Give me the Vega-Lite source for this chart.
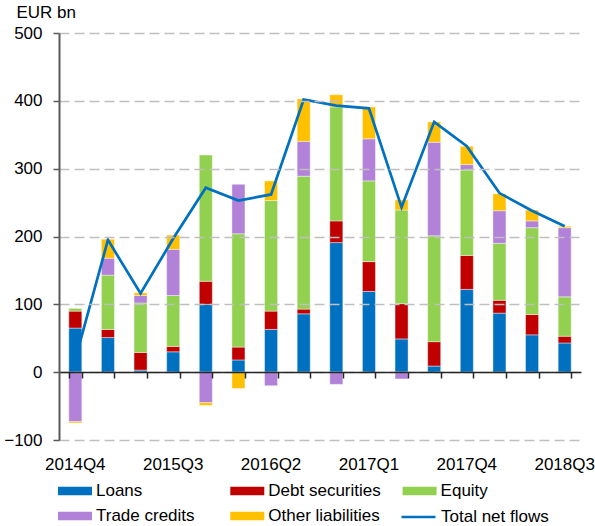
{
  "$schema": "https://vega.github.io/schema/vega-lite/v6.json",
  "autosize": {"type": "none"},
  "width": 522,
  "height": 407,
  "padding": {"left": 59, "top": 33, "right": 14, "bottom": 86},
  "background": "white",
  "config": {
    "view": {"stroke": null},
    "font": "Liberation Sans",
    "axis": {"labelFont": "Liberation Sans", "labelFontSize": 17, "labelColor": "#000000"}
  },
  "datasets": {
    "bars": [
      {"q": "2014Q4", "s": "Loans", "v": 65}, {"q": "2014Q4", "s": "Debt securities", "v": 25}, {"q": "2014Q4", "s": "Equity", "v": 4}, {"q": "2014Q4", "s": "Trade credits", "v": -73}, {"q": "2014Q4", "s": "Other liabilities", "v": -2},
      {"q": "2015Q1", "s": "Loans", "v": 51}, {"q": "2015Q1", "s": "Debt securities", "v": 12}, {"q": "2015Q1", "s": "Equity", "v": 80}, {"q": "2015Q1", "s": "Trade credits", "v": 25}, {"q": "2015Q1", "s": "Other liabilities", "v": 28},
      {"q": "2015Q2", "s": "Loans", "v": 3}, {"q": "2015Q2", "s": "Debt securities", "v": 26}, {"q": "2015Q2", "s": "Equity", "v": 73}, {"q": "2015Q2", "s": "Trade credits", "v": 11}, {"q": "2015Q2", "s": "Other liabilities", "v": 4},
      {"q": "2015Q3", "s": "Loans", "v": 30}, {"q": "2015Q3", "s": "Debt securities", "v": 8}, {"q": "2015Q3", "s": "Equity", "v": 75}, {"q": "2015Q3", "s": "Trade credits", "v": 68}, {"q": "2015Q3", "s": "Other liabilities", "v": 21},
      {"q": "2015Q4", "s": "Loans", "v": 100}, {"q": "2015Q4", "s": "Debt securities", "v": 34}, {"q": "2015Q4", "s": "Equity", "v": 186}, {"q": "2015Q4", "s": "Trade credits", "v": -45}, {"q": "2015Q4", "s": "Other liabilities", "v": -4},
      {"q": "2016Q1", "s": "Loans", "v": 18}, {"q": "2016Q1", "s": "Debt securities", "v": 19}, {"q": "2016Q1", "s": "Equity", "v": 167}, {"q": "2016Q1", "s": "Trade credits", "v": 73}, {"q": "2016Q1", "s": "Other liabilities", "v": -24},
      {"q": "2016Q2", "s": "Loans", "v": 63}, {"q": "2016Q2", "s": "Debt securities", "v": 27}, {"q": "2016Q2", "s": "Equity", "v": 163}, {"q": "2016Q2", "s": "Trade credits", "v": -20}, {"q": "2016Q2", "s": "Other liabilities", "v": 29},
      {"q": "2016Q3", "s": "Loans", "v": 86}, {"q": "2016Q3", "s": "Debt securities", "v": 7}, {"q": "2016Q3", "s": "Equity", "v": 196}, {"q": "2016Q3", "s": "Trade credits", "v": 51}, {"q": "2016Q3", "s": "Other liabilities", "v": 63},
      {"q": "2016Q4", "s": "Loans", "v": 191}, {"q": "2016Q4", "s": "Debt securities", "v": 32}, {"q": "2016Q4", "s": "Equity", "v": 168}, {"q": "2016Q4", "s": "Trade credits", "v": -18}, {"q": "2016Q4", "s": "Other liabilities", "v": 18},
      {"q": "2017Q1", "s": "Loans", "v": 119}, {"q": "2017Q1", "s": "Debt securities", "v": 44}, {"q": "2017Q1", "s": "Equity", "v": 119}, {"q": "2017Q1", "s": "Trade credits", "v": 62}, {"q": "2017Q1", "s": "Other liabilities", "v": 47},
      {"q": "2017Q2", "s": "Loans", "v": 49}, {"q": "2017Q2", "s": "Debt securities", "v": 52}, {"q": "2017Q2", "s": "Equity", "v": 138}, {"q": "2017Q2", "s": "Trade credits", "v": -10}, {"q": "2017Q2", "s": "Other liabilities", "v": 15},
      {"q": "2017Q3", "s": "Loans", "v": 9}, {"q": "2017Q3", "s": "Debt securities", "v": 36}, {"q": "2017Q3", "s": "Equity", "v": 156}, {"q": "2017Q3", "s": "Trade credits", "v": 138}, {"q": "2017Q3", "s": "Other liabilities", "v": 30},
      {"q": "2017Q4", "s": "Loans", "v": 122}, {"q": "2017Q4", "s": "Debt securities", "v": 50}, {"q": "2017Q4", "s": "Equity", "v": 126}, {"q": "2017Q4", "s": "Trade credits", "v": 8}, {"q": "2017Q4", "s": "Other liabilities", "v": 27},
      {"q": "2018Q1", "s": "Loans", "v": 87}, {"q": "2018Q1", "s": "Debt securities", "v": 19}, {"q": "2018Q1", "s": "Equity", "v": 84}, {"q": "2018Q1", "s": "Trade credits", "v": 48}, {"q": "2018Q1", "s": "Other liabilities", "v": 25},
      {"q": "2018Q2", "s": "Loans", "v": 55}, {"q": "2018Q2", "s": "Debt securities", "v": 30}, {"q": "2018Q2", "s": "Equity", "v": 128}, {"q": "2018Q2", "s": "Trade credits", "v": 10}, {"q": "2018Q2", "s": "Other liabilities", "v": 16},
      {"q": "2018Q3", "s": "Loans", "v": 43}, {"q": "2018Q3", "s": "Debt securities", "v": 10}, {"q": "2018Q3", "s": "Equity", "v": 58}, {"q": "2018Q3", "s": "Trade credits", "v": 102}, {"q": "2018Q3", "s": "Other liabilities", "v": 2}
    ],
    "total": [
      {"q": "2014Q4", "v": 19}, {"q": "2015Q1", "v": 195}, {"q": "2015Q2", "v": 116}, {"q": "2015Q3", "v": 197},
      {"q": "2015Q4", "v": 272}, {"q": "2016Q1", "v": 253}, {"q": "2016Q2", "v": 262}, {"q": "2016Q3", "v": 402},
      {"q": "2016Q4", "v": 393}, {"q": "2017Q1", "v": 389}, {"q": "2017Q2", "v": 243}, {"q": "2017Q3", "v": 369},
      {"q": "2017Q4", "v": 333}, {"q": "2018Q1", "v": 264}, {"q": "2018Q2", "v": 238}, {"q": "2018Q3", "v": 215}
    ]
  },
  "layer": [
    {
      "data": {"name": "bars"},
      "transform": [
        {"calculate": "indexof(['Loans','Debt securities','Equity','Trade credits','Other liabilities'], datum.s)", "as": "stackOrder"}
      ],
      "mark": {"type": "bar", "stroke": "white", "strokeWidth": 0.6, "strokeOpacity": 0.7},
      "encoding": {
        "x": {
          "field": "q", "type": "ordinal",
          "scale": {"paddingInner": 0.6, "paddingOuter": 0.3},
          "axis": {
            "labelExpr": "indexof(['2014Q4','2015Q3','2016Q2','2017Q1','2017Q4','2018Q3'], datum.value) >= 0 ? datum.value : ''",
            "labelAngle": 0, "ticks": false, "tickSize": 0, "domain": false,
            "labelPadding": 16, "labelBaseline": "top", "title": null, "grid": false,
            "labelOverlap": false, "labelFlush": false, "labelBound": false
          }
        },
        "y": {
          "field": "v", "type": "quantitative", "stack": "zero",
          "scale": {"domain": [-100, 500], "nice": false},
          "axis": {
            "values": [-100, 0, 100, 200, 300, 400, 500],
            "grid": true, "gridColor": "#BFBFBF", "gridDash": [10, 5], "gridWidth": 1.5,
            "domainColor": "#595959", "domainWidth": 2,
            "tickColor": "#595959", "tickSize": 6, "tickWidth": 1.5,
            "labelPadding": 11,
            "title": "EUR bn", "titleAngle": 0, "titleAlign": "left", "titleBaseline": "alphabetic",
            "titleX": -43, "titleY": -16, "titleFont": "Liberation Sans", "titleFontSize": 17,
            "titleFontWeight": "normal", "titleColor": "#000000",
            "zindex": 1
          }
        },
        "order": {"field": "stackOrder", "type": "quantitative", "sort": "ascending"},
        "fill": {
          "field": "s", "type": "nominal",
          "scale": {
            "domain": ["Loans", "Debt securities", "Equity", "Trade credits", "Other liabilities"],
            "range": ["#0070C0", "#C00000", "#92D050", "#B281D8", "#FFC000"]
          },
          "legend": {
            "orient": "none", "legendX": -1, "legendY": 441,
            "direction": "horizontal", "columns": 3, "title": null,
            "symbolSize": 1156, "symbolType": "M-1,-0.245H1V0.245H-1Z",
            "symbolStrokeWidth": 0, "symbolOpacity": 1,
            "labelFontSize": 17, "labelFont": "Liberation Sans", "labelColor": "#000000",
            "labelOffset": 4, "columnPadding": 21.3, "rowPadding": -9.5, "gridAlign": "all",
            "padding": 0, "labelLimit": 300
          }
        }
      }
    },
    {
      "data": {"name": "total"},
      "mark": {"type": "line", "strokeWidth": 2.7},
      "encoding": {
        "x": {
          "field": "q", "type": "ordinal",
          "axis": {
            "orient": "bottom", "offset": -68, "labels": false, "domain": true, "domainColor": "#262626", "domainWidth": 1.5,
            "ticks": true, "tickBand": "extent", "tickSize": 6, "tickColor": "#262626", "tickWidth": 1.5,
            "grid": false, "title": null, "zindex": 1
          }
        },
        "y": {"field": "v", "type": "quantitative"},
        "stroke": {
          "datum": "Total net flows", "type": "nominal",
          "scale": {"domain": ["Total net flows"], "range": ["#0070C0"]},
          "legend": {
            "orient": "none", "legendX": 341, "legendY": 465.5,
            "title": null, "symbolSize": 1156, "symbolType": "M-1,0H1",
            "symbolStrokeWidth": 2.7, "symbolOpacity": 1,
            "labelFontSize": 17, "labelFont": "Liberation Sans", "labelColor": "#000000",
            "labelOffset": 4, "padding": 0, "labelLimit": 300
          }
        }
      }
    }
  ],
  "resolve": {"axis": {"x": "independent"}}
}
